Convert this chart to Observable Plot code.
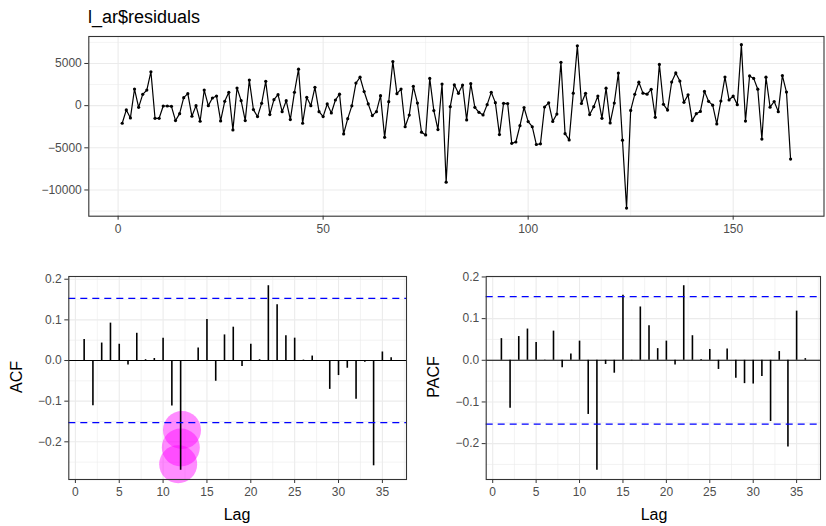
<!DOCTYPE html>
<html><head><meta charset="utf-8">
<script src="https://cdn.jsdelivr.net/npm/d3@7"></script>
<script src="https://cdn.jsdelivr.net/npm/@observablehq/plot@0.6"></script>
<style>
body{margin:0;background:#fff;font-family:"Liberation Sans",Arial,sans-serif;}
#wrap{position:relative;width:826px;height:526px;overflow:hidden;background:#fff;}
#wrap svg{position:absolute;}
.lbl{position:absolute;font-size:16px;color:#000;white-space:nowrap;line-height:1;transform:translate(-50%,-50%);}
.rot{transform:translate(-50%,-50%) rotate(-90deg);}
#title{position:absolute;left:88px;top:8px;font-size:18px;line-height:1;color:#000;white-space:nowrap;}
</style></head><body>
<div id="wrap">
  <div id="title">l_ar$residuals</div>
  <div class="lbl rot" style="left:16.5px;top:377px">ACF</div>
  <div class="lbl" style="left:237px;top:515px">Lag</div>
  <div class="lbl rot" style="left:434px;top:377px">PACF</div>
  <div class="lbl" style="left:654px;top:515px">Lag</div>
</div>
<script>
const residuals = [
 -2090,-510,-1460,1970,-200,1340,1850,4020,-1500,-1500,
 -40,-40,-80,-1770,-950,950,1420,-1260,0,-1850,
 1850,0,906,1140,-1810,510,1575,-2875,2090,590,
 -1770,3030,-470,-1300,275,2880,-1060,710,1300,-710,
 590,-1650,1575,4330,-2090,985,0,2170,-710,-1300,
 200,-870,670,1360,-3350,-1540,-20,2680,3370,1670,
 200,-1180,-710,1180,-3760,470,5220,1420,1970,-2500,
 -1120,2285,300,-3150,-3470,3230,-590,-2840,2560,-9080,
 -120,2480,1460,2440,-1690,2600,-200,-790,-1100,118,
 1580,355,-3430,275,250,-4470,-4310,-2380,-220,-1890,
 -2500,-4610,-4530,-160,335,-1870,-1000,5140,-3320,-4060,
 1480,7090,255,1460,-1060,-120,1140,-1500,2070,-2050,
 300,3860,-4100,-12140,-570,1340,2780,1480,1360,1930,
 -1380,4890,160,-530,2800,3880,2910,394,1280,-1770,
 -950,-690,1690,512,60,-2170,550,3390,670,1140,
 120,7230,-1830,3520,3230,1950,-3960,3370,-180,490,
 -710,3570,1610,-6340
];
const acfValues = [
 0.052,-0.111,0.043,0.092,0.040,-0.011,0.067,0.002,0.005,0.055,
 -0.112,-0.270,-0.002,0.031,0.101,-0.051,0.063,0.082,-0.015,0.040,
 0.002,0.184,0.137,0.061,0.055,0.001,0.011,-0.002,-0.071,-0.037,
 -0.019,-0.095,-0.004,-0.259,0.021,0.007
];
const pacfValues = [
 0.052,-0.115,0.057,0.075,0.043,0.001,0.070,-0.018,0.015,0.046,
 -0.130,-0.264,-0.010,-0.031,0.156,-0.001,0.128,0.083,0.028,0.046,
 -0.011,0.179,0.059,0.002,0.026,-0.022,0.027,-0.043,-0.056,-0.057,
 -0.039,-0.147,0.021,-0.208,0.118,0.004
];
const ciLimit = 0.153;
const highlightLag = [12.16, 12.02, 11.72];
const highlightValue = [-0.171, -0.214, -0.255];

const topXTicks = [0, 50, 100, 150];
const topXMinor = [25, 75, 125];
const topYTicks = [-10000, -5000, 0, 5000];
const topYMinor = [-12500, -7500, -2500, 2500, 7500];
const lagTicks = [0, 5, 10, 15, 20, 25, 30, 35];
const lagMinor = [2.5, 7.5, 12.5, 17.5, 22.5, 27.5, 32.5, 37.5];
const corrTicks = [-0.2, -0.1, 0, 0.1, 0.2];
const corrMinor = [-0.25, -0.15, -0.05, 0.05, 0.15];

const FONT = '"Liberation Sans", Arial, sans-serif';
const GRID = "#ebebeb";
const expand = (lo, hi) => { const r = hi - lo; return [lo - 0.05 * r, hi + 0.05 * r]; };

const wrap = document.getElementById("wrap");

// Top: residual series
const series = residuals.map((v, i) => ({t: i + 1, v}));
const topChart = Plot.plot({
  width: 826, height: 245,
  marginLeft: 88.3, marginRight: 2.5, marginTop: 36, marginBottom: 29.3,
  style: {fontFamily: FONT, fontSize: "12px", background: "transparent", overflow: "visible"},
  x: {domain: expand(1, residuals.length), label: null},
  y: {domain: expand(d3.min(residuals), d3.max(residuals)), label: null},
  marks: [
    Plot.gridX(topXMinor, {stroke: GRID, strokeOpacity: 1, strokeWidth: 0.6}),
    Plot.gridY(topYMinor, {stroke: GRID, strokeOpacity: 1, strokeWidth: 0.6}),
    Plot.gridX(topXTicks, {stroke: GRID, strokeOpacity: 1, strokeWidth: 1.1}),
    Plot.gridY(topYTicks, {stroke: GRID, strokeOpacity: 1, strokeWidth: 1.1}),
    Plot.line(series, {x: "t", y: "v", stroke: "black", strokeWidth: 1.2}),
    Plot.dot(series, {x: "t", y: "v", r: 1.6, fill: "black"}),
    Plot.frame({stroke: "#333333", strokeWidth: 1.1}),
    Plot.axisX(topXTicks, {tickSize: 4, tickPadding: 4, stroke: "#333333", fill: "#4d4d4d", tickFormat: d3.format("d"), label: null}),
    Plot.axisY(topYTicks, {tickSize: 4, tickPadding: 3, stroke: "#333333", fill: "#4d4d4d", tickFormat: d3.format("d"), label: null})
  ]
});
topChart.style.left = "0px"; topChart.style.top = "0px";
wrap.appendChild(topChart);

function corrChart(values, opts) {
  const data = values.map((v, i) => ({lag: i + 1, value: v}));
  const lo = Math.min(d3.min(values), -ciLimit), hi = Math.max(d3.max(values), ciLimit);
  const marks = [
    Plot.gridX(lagMinor, {stroke: GRID, strokeOpacity: 1, strokeWidth: 0.6}),
    Plot.gridY(corrMinor, {stroke: GRID, strokeOpacity: 1, strokeWidth: 0.6}),
    Plot.gridX(lagTicks, {stroke: GRID, strokeOpacity: 1, strokeWidth: 1.1}),
    Plot.gridY(corrTicks, {stroke: GRID, strokeOpacity: 1, strokeWidth: 1.1})
  ];
  if (opts.highlight) {
    const hl = highlightLag.map((l, i) => ({lag: l, value: highlightValue[i]}));
    marks.push(Plot.dot(hl, {x: "lag", y: "value", r: 19, fill: "#ff00ff", fillOpacity: 0.45, stroke: null}));
  }
  marks.push(
    Plot.ruleY([0], {stroke: "black", strokeWidth: 1.1}),
    Plot.ruleX(data, {x: "lag", y1: 0, y2: "value", stroke: "black", strokeWidth: 1.6}),
    Plot.ruleY([ciLimit, -ciLimit], {stroke: "#0000ff", strokeWidth: 1.3, strokeDasharray: "7,5"}),
    Plot.frame({stroke: "#333333", strokeWidth: 1.1}),
    Plot.axisX(lagTicks, {tickSize: 4, tickPadding: 4, stroke: "#333333", fill: "#4d4d4d", tickFormat: d3.format("d"), label: null}),
    Plot.axisY(corrTicks, {tickSize: 4, tickPadding: 3, stroke: "#333333", fill: "#4d4d4d", tickFormat: d3.format(".1f"), label: null})
  );
  const svg = Plot.plot({
    width: 413, height: 281,
    marginLeft: opts.ml, marginRight: opts.mr, marginTop: 31, marginBottom: 47,
    style: {fontFamily: FONT, fontSize: "12px", background: "transparent", overflow: "visible"},
    x: {domain: expand(1, values.length), label: null},
    y: {domain: expand(lo, hi), label: null},
    marks
  });
  svg.style.left = opts.left + "px"; svg.style.top = "245px";
  return svg;
}
wrap.appendChild(corrChart(acfValues, {left: 0, ml: 68.3, mr: 7, highlight: true}));
wrap.appendChild(corrChart(pacfValues, {left: 413, ml: 72.7, mr: 6, highlight: false}));
</script>
</body></html>
